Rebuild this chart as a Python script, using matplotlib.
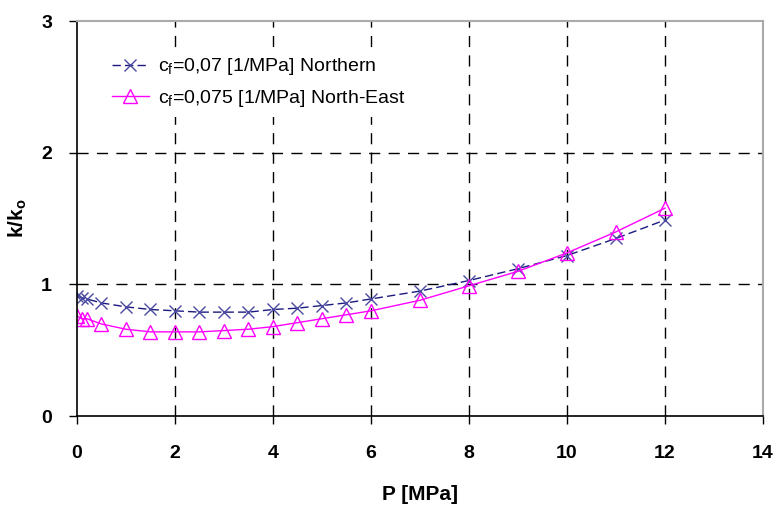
import matplotlib
matplotlib.use("Agg")
import matplotlib.pyplot as plt

plt.rcParams['font.family'] = ['Liberation Sans', 'DejaVu Sans']
plt.rcParams['mathtext.default'] = 'regular'

# data
p_north = [0, 0.1, 0.2, 0.5, 1, 1.5, 2, 2.5, 3, 3.5, 4, 4.5, 5, 5.5, 6, 7, 8, 9, 10, 11, 12]
k_north = [0.91, 0.90, 0.89, 0.86, 0.83, 0.81, 0.80, 0.79, 0.79, 0.79, 0.81, 0.82, 0.84, 0.86, 0.89, 0.95, 1.03, 1.12, 1.22, 1.35, 1.49]

p_ne = [0, 0.1, 0.2, 0.5, 1, 1.5, 2, 2.5, 3, 3.5, 4, 4.5, 5, 5.5, 6, 7, 8, 9, 10, 11, 12]
k_ne = [0.76, 0.74, 0.74, 0.70, 0.66, 0.64, 0.64, 0.64, 0.65, 0.66, 0.68, 0.71, 0.74, 0.77, 0.80, 0.88, 0.99, 1.10, 1.24, 1.40, 1.58]

x_ticks = [0, 2, 4, 6, 8, 10, 12, 14]
y_ticks = [0, 1, 2, 3]

fig = plt.figure(figsize=(7.77, 5.05), dpi=100)
ax = fig.add_axes([0.099, 0.176, 0.883, 0.782])

# dashed grid, inner lines only (edges are the frame)
for xv in x_ticks[1:-1]:
    ax.axvline(xv, color='black', linestyle=(0, (8, 6)), linewidth=1.0, zorder=0.5)
for yv in y_ticks[1:-1]:
    ax.axhline(yv, color='black', linestyle=(0, (8, 6)), linewidth=1.0, zorder=0.5)

ax.plot(p_north, k_north, color='#1a1a80', linestyle=(0, (6, 3)), linewidth=1.0,
        marker='x', markersize=9, markeredgewidth=1.0, markeredgecolor='#4a4aa0',
        label='c$_{f}$=0,07 [1/MPa] Northern')
ax.plot(p_ne, k_ne, color='#ff00ff', linestyle='-', linewidth=1.0,
        marker='^', markersize=10, markerfacecolor='none', markeredgecolor='#ff00ff',
        markeredgewidth=1.0, label='c$_{f}$=0,075 [1/MPa] North-East')

ax.set_xlim(0, 14)
ax.set_ylim(0, 3)
ax.set_xticks(x_ticks)
ax.set_yticks(y_ticks)

for s in ['top', 'right']:
    ax.spines[s].set_color('#aaaaaa')
    ax.spines[s].set_linewidth(1.5)
for s in ['left', 'bottom']:
    ax.spines[s].set_color('black')
    ax.spines[s].set_linewidth(1.2)

ax.tick_params(direction='out', length=6, width=1, labelsize=14)
ax.tick_params(axis='x', pad=15)
ax.tick_params(axis='y', pad=12)
for lab in ax.get_xticklabels() + ax.get_yticklabels():
    lab.set_fontweight('bold')

ax.set_xlabel('P [MPa]', fontsize=15, fontweight='bold', labelpad=16)
ax.set_ylabel('k/k$_{o}$', fontsize=15, fontweight='bold', labelpad=9)

leg = ax.legend(loc='upper left', bbox_to_anchor=(0.025, 0.955), frameon=True,
                fancybox=False, facecolor='white', edgecolor='none', framealpha=1.0,
                fontsize=14, handlelength=1.9, handletextpad=0.5, labelspacing=0.55)

fig.savefig('out.png', dpi=100)
